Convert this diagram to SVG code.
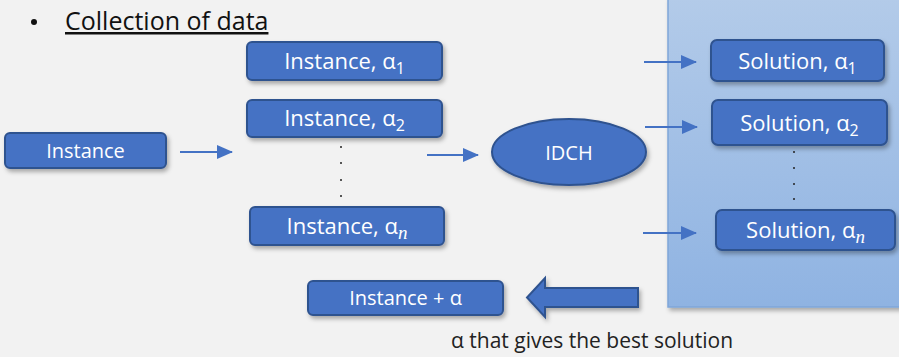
<svg xmlns="http://www.w3.org/2000/svg" width="899" height="357" viewBox="0 0 899 357">
<defs>
<linearGradient id="pg" x1="0" y1="0" x2="0" y2="1">
<stop offset="0" stop-color="#b3cbe9"/>
<stop offset="1" stop-color="#8fb3e2"/>
</linearGradient>
<filter id="sh" x="-10%" y="-20%" width="125%" height="160%">
<feDropShadow dx="2" dy="3" stdDeviation="2" flood-color="#000" flood-opacity="0.3"/>
</filter>
<marker id="ah" markerWidth="16" markerHeight="14" refX="15" refY="7" orient="auto" markerUnits="userSpaceOnUse" viewBox="0 0 16 14">
<path d="M0,0 L16,7 L0,14 z" fill="#4472c4"/>
</marker>
<style>
.box{fill:#4472c4;stroke:#2f528f;stroke-width:2;filter:url(#sh)}
.lbl{font-family:"Open Sans","Liberation Sans",sans-serif;font-size:22px;fill:#fff;text-anchor:middle}
.sub{font-size:16px}
.it{font-family:"Liberation Serif",serif;font-style:italic;font-size:19px}
.con{stroke:#4472c4;stroke-width:2;fill:none;marker-end:url(#ah)}
.dot{fill:#222}
</style>
</defs>
<rect width="899" height="357" fill="#f2f2f2"/>
<rect id="panel" x="668" y="-2" width="233" height="309" fill="url(#pg)" stroke="#7fa6d9" stroke-width="1.5" filter="url(#sh)"/>
<g id="title">
<circle cx="34" cy="22" r="3" fill="#111"/>
<text x="65" y="30" font-family="Open Sans, Liberation Sans, sans-serif" font-size="25" fill="#111" text-decoration="underline">Collection of data</text>
</g>
<g id="instance"><rect class="box" x="5" y="133" width="161" height="35" rx="5"/><text class="lbl" x="85.5" y="158" style="font-size:20px">Instance</text></g>
<g id="inst1"><rect class="box" x="247" y="42" width="195" height="38" rx="5"/><text class="lbl" x="344.5" y="69">Instance, α<tspan class="sub" dy="5">1</tspan></text></g>
<g id="inst2"><rect class="box" x="247" y="100" width="195" height="37" rx="5"/><text class="lbl" x="344.5" y="126">Instance, α<tspan class="sub" dy="5">2</tspan></text></g>
<g id="instn"><rect class="box" x="250" y="207" width="194" height="38" rx="5"/><text class="lbl" x="347" y="234">Instance, α<tspan class="it" dy="5">n</tspan></text></g>
<g id="idots"><circle class="dot" cx="341" cy="147" r="1"/><circle class="dot" cx="341" cy="163" r="1"/><circle class="dot" cx="341" cy="180" r="1"/><circle class="dot" cx="341" cy="196" r="1"/></g>
<g id="idch"><ellipse class="box" cx="569" cy="152" rx="77" ry="33"/><text class="lbl" x="569" y="160" style="font-size:20px">IDCH</text></g>
<g id="sol1"><rect class="box" x="711" y="40" width="173" height="41" rx="6"/><text class="lbl" x="797.5" y="69">Solution, α<tspan class="sub" dy="5">1</tspan></text></g>
<g id="sol2"><rect class="box" x="712" y="100" width="175" height="45" rx="6"/><text class="lbl" x="799.5" y="131">Solution, α<tspan class="sub" dy="5">2</tspan></text></g>
<g id="soln"><rect class="box" x="716" y="210" width="179" height="40" rx="6"/><text class="lbl" x="805.5" y="238">Solution, α<tspan class="it" dy="5">n</tspan></text></g>
<g id="sdots"><circle class="dot" cx="794" cy="152" r="1"/><circle class="dot" cx="794" cy="168" r="1"/><circle class="dot" cx="794" cy="184" r="1"/><circle class="dot" cx="794" cy="199" r="1"/></g>
<g id="result"><rect class="box" x="308" y="281" width="195" height="34" rx="5"/><text class="lbl" x="405.5" y="305" style="font-size:20px">Instance + α</text></g>
<g id="connectors">
<line class="con" x1="180" y1="152" x2="232" y2="152"/>
<line class="con" x1="427" y1="155" x2="478" y2="155"/>
<line class="con" x1="644" y1="62" x2="696" y2="62"/>
<line class="con" x1="645" y1="127" x2="697" y2="127"/>
<line class="con" x1="643" y1="233" x2="696" y2="233"/>
<path d="M638,288 L545,288 L545,278 L527,297.5 L545,317 L545,307 L638,307 z" fill="#4472c4" stroke="#2f528f" stroke-width="2" filter="url(#sh)"/>
</g>
<text id="caption" x="451" y="348" font-family="Open Sans, Liberation Sans, sans-serif" font-size="21" fill="#222">α that gives the best solution</text>
</svg>
